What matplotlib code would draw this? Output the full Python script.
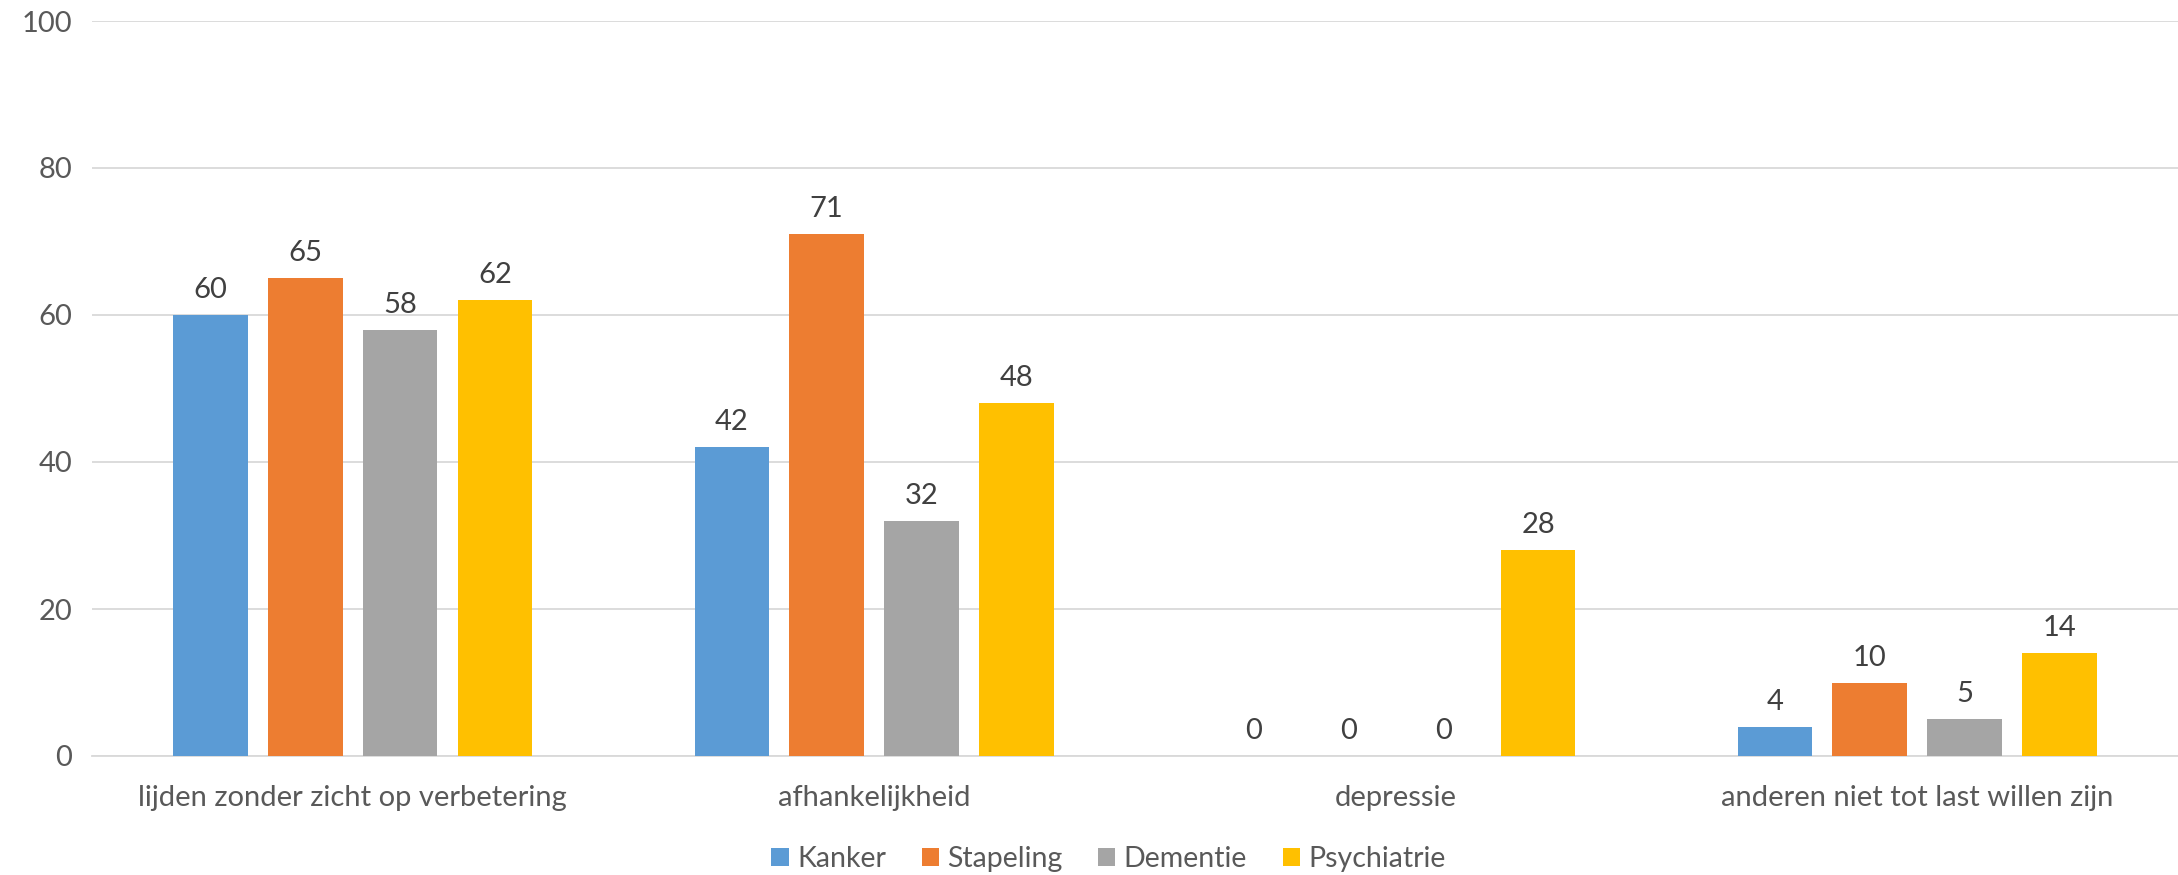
import matplotlib

matplotlib.use("Agg")
import matplotlib.pyplot as plt
import numpy as np

categories = [
    "lijden zonder zicht op verbetering",
    "afhankelijkheid",
    "depressie",
    "anderen niet tot last willen zijn",
]
series_names = ["Kanker", "Stapeling", "Dementie", "Psychiatrie"]
kanker = [60, 42, 0, 4]
stapeling = [65, 71, 0, 10]
dementie = [58, 32, 0, 5]
psychiatrie = [62, 48, 28, 14]
yticks = [0, 20, 40, 60, 80, 100]

colors = ["#5B9BD5", "#ED7D31", "#A5A5A5", "#FFC000"]
text_color = "#595959"
grid_color = "#D9D9D9"
fsize = 21

plt.rcParams["font.family"] = ["Lato", "DejaVu Sans"]

fig = plt.figure(figsize=(21.78, 8.75), dpi=100)
ax = fig.add_axes([0.0422, 0.1360, 0.9578, 0.8400])

x = np.arange(len(categories))
bar_w = 0.143
step = 0.182
all_series = [kanker, stapeling, dementie, psychiatrie]
for i, (name, vals, col) in enumerate(zip(series_names, all_series, colors)):
    pos = x + (i - 1.5) * step
    bars = ax.bar(pos, vals, width=bar_w, color=col, label=name, zorder=3)
    for b, v in zip(bars, vals):
        ax.annotate(
            f"{v}",
            (b.get_x() + b.get_width() / 2, v),
            xytext=(0, 12),
            textcoords="offset pixels",
            ha="center",
            va="bottom",
            fontsize=fsize,
            color="#404040",
        )

ax.set_xlim(-0.5, len(categories) - 0.5)
ax.set_ylim(0, 100)
ax.set_yticks(yticks)
ax.yaxis.grid(True, color=grid_color, linewidth=1.3, zorder=0)
ax.set_axisbelow(True)
for side in ["top", "right", "left"]:
    ax.spines[side].set_visible(False)
ax.spines["bottom"].set_color(grid_color)
ax.spines["bottom"].set_linewidth(1.3)
ax.tick_params(axis="both", length=0, labelsize=fsize, labelcolor=text_color)
ax.tick_params(axis="x", pad=21)
ax.tick_params(axis="y", pad=14)
ax.set_xticks(x)
ax.set_xticklabels(categories)

fig.legend(
    loc="center",
    bbox_to_anchor=(0.509, 0.018),
    ncol=4,
    frameon=False,
    fontsize=20.5,
    labelcolor=text_color,
    handlelength=0.6,
    handleheight=0.6,
    handletextpad=0.3,
    columnspacing=1.25,
)

fig.savefig("out.png", dpi=100)
